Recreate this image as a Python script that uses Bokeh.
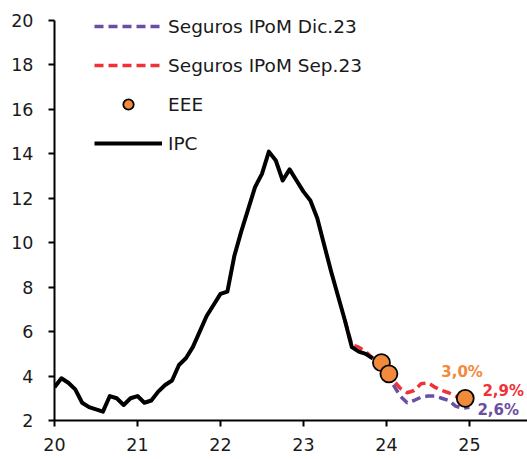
from bokeh.plotting import figure
from bokeh.models import FixedTicker, Legend, LegendItem, ColumnDataSource, Range1d
from bokeh.core.properties import value
from bokeh.embed import file_html
from bokeh.resources import INLINE

# ---------------- data ----------------
# IPC (annual %, monthly from Jan 2020)
ipc_start = 2020
ipc_values = [3.5, 3.9, 3.7, 3.4, 2.8, 2.6, 2.5, 2.4, 3.1, 3.0, 2.7, 3.0,
              3.1, 2.8, 2.9, 3.3, 3.6, 3.8, 4.5, 4.8, 5.3, 6.0, 6.7, 7.2,
              7.7, 7.8, 9.4, 10.5, 11.5, 12.5, 13.1, 14.1, 13.7, 12.8, 13.3, 12.8,
              12.3, 11.9, 11.1, 9.9, 8.7, 7.6, 6.5, 5.3, 5.1, 5.0, 4.8]

# Seguros IPoM Sep.23 (monthly from Jul 2023)
sep_start_month = 7
sep_values = [6.5, 5.4, 5.3, 5.1, 4.8, 4.4, 4.1, 3.8, 3.45, 3.25, 3.35, 3.65,
              3.7, 3.5, 3.35, 3.25, 3.1, 2.95, 2.9]

# Seguros IPoM Dic.23 (monthly from Oct 2023)
dic_start_month = 10
dic_values = [5.0, 4.8, 4.45, 4.0, 3.6, 3.1, 2.8, 2.9, 3.05, 3.1, 3.1, 3.0,
              2.9, 2.65, 2.55, 2.6]

# EEE (Encuesta de Expectativas Económicas)
eee_x = [23.94, 24.03, 24.95]
eee_y = [4.6, 4.1, 3.0]

x_ticks = [20, 21, 22, 23, 24, 25]
y_ticks = [2, 4, 6, 8, 10, 12, 14, 16, 18, 20]

# ---------------- derived x positions ----------------
ipc_x = [20 + i / 12 for i in range(len(ipc_values))]
sep_x = [23 + (sep_start_month - 1 + i) / 12 for i in range(len(sep_values))]
dic_x = [23 + (dic_start_month - 1 + i) / 12 for i in range(len(dic_values))]

PURPLE = "#6a4ea3"
RED = "#ee3338"
ORANGE = "#f28a3c"
TXT = "#1a1a1a"
FONT = "DejaVu Sans"

p = figure(width=527, height=459, output_backend="svg", toolbar_location=None,
           x_range=Range1d(20, 25.70), y_range=Range1d(2, 20.63),
           min_border_left=54, min_border_right=0, min_border_top=6, min_border_bottom=39)
p.outline_line_color = None
p.grid.visible = False
p.background_fill_color = "white"
p.border_fill_color = "white"

r_dic = p.line(dic_x, dic_values, color=PURPLE, line_width=3.5, line_dash="9 5")
r_sep = p.line(sep_x, sep_values, color=RED, line_width=3.5, line_dash="9 5")
r_ipc = p.line(ipc_x, ipc_values, color="black", line_width=4, line_join="round")
r_eee = p.scatter(eee_x, eee_y, size=17, fill_color=ORANGE, line_color="black", line_width=1.8)

fmt = lambda v: f"{v:.1f}%".replace(".", ",")
lab = ColumnDataSource(dict(
    x=[eee_x[-1], sep_x[-1], dic_x[-1]],
    y=[eee_y[-1], sep_values[-1], dic_values[-1]],
    t=[fmt(eee_y[-1]), fmt(sep_values[-1]), fmt(dic_values[-1])],
    c=[ORANGE, RED, PURPLE],
    xo=[-24, 13, 8],
    yo=[-26, -10, 3],
))
p.text(x="x", y="y", text="t", text_color="c", x_offset="xo", y_offset="yo", source=lab,
       text_font=value(FONT), text_font_style="bold", text_font_size="15px",
       text_align="left", text_baseline="middle")

for ax in (p.xaxis, p.yaxis):
    ax.axis_line_color = "black"
    ax.axis_line_width = 2
    ax.major_tick_line_color = "black"
    ax.major_tick_line_width = 2
    ax.major_tick_out = 6
    ax.major_tick_in = 0
    ax.minor_tick_line_color = None
    ax.major_label_text_font = FONT
    ax.major_label_text_font_size = "17.5px"
    ax.major_label_text_color = TXT
p.xaxis.ticker = FixedTicker(ticks=x_ticks)
p.yaxis.ticker = FixedTicker(ticks=y_ticks)
p.yaxis.bounds = (y_ticks[0], y_ticks[-1])
p.xaxis.major_label_standoff = 11
p.yaxis.major_label_standoff = 15

legend = Legend(items=[
    LegendItem(label="Seguros IPoM Dic.23", renderers=[r_dic]),
    LegendItem(label="Seguros IPoM Sep.23", renderers=[r_sep]),
    LegendItem(label="EEE", renderers=[r_eee]),
    LegendItem(label="IPC", renderers=[r_ipc]),
], location=(40, 264))
legend.padding = 0
legend.margin = 0
legend.border_line_alpha = 0
legend.background_fill_alpha = 0
legend.glyph_width = 68
legend.glyph_height = 26
legend.label_height = 26
legend.spacing = 13
legend.label_standoff = 6
legend.label_text_font = FONT
legend.label_text_font_size = "18.5px"
legend.label_text_color = TXT
p.add_layout(legend)

open("out.html", "w").write(file_html(p, INLINE))
